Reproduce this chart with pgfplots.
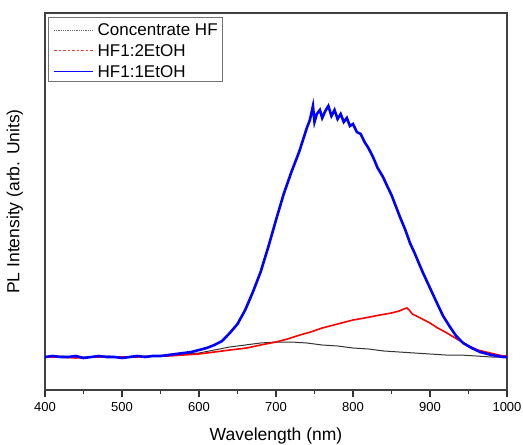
\documentclass[border=0pt]{standalone}
\usepackage{pgfplots}
\pgfplotsset{compat=1.18}
\usepackage{fontspec}
\setmainfont{Liberation Sans}
\definecolor{legblue}{RGB}{10,10,250}
\definecolor{legred}{RGB}{240,60,60}
\definecolor{leggray}{RGB}{110,110,110}
\begin{document}
\begin{tikzpicture}
\begin{axis}[
  scale only axis,
  width=462pt, height=377pt,
  xmin=400, xmax=1000, ymin=0, ymax=377,
  xtick={400,500,...,1000},
  minor x tick num=1,
  ytick=\empty,
  xtick pos=bottom,
  xtick align=outside,
  major tick length=7pt,
  minor tick length=4pt,
  every tick/.style={black!80, line width=1.2pt},
  axis line style={black!75, line width=1.5pt},
  /pgf/number format/assume math mode=true,
  /pgf/number format/1000 sep={},
  ticklabel style={font=\fontsize{13}{15}\selectfont},
  xticklabel style={yshift=-2pt},
  xlabel={Wavelength (nm)},
  ylabel={PL Intensity (arb. Units)},
  label style={font=\fontsize{17.5}{21}\selectfont},
  xlabel style={at={(axis description cs:0.5,-0.092)}, anchor=north},
  ylabel style={at={(axis description cs:-0.04,0.5)}, anchor=south},
]
% legend (drawn first; curves never reach this area)
\draw[draw=black!55, line width=0.6pt, fill=white] (rel axis cs:0.0065,0.9886) rectangle (rel axis cs:0.3831,0.8178);
\fill[fill=legblue] (rel axis cs:0.0195,0.8431) rectangle (rel axis cs:0.1045,0.8455);
\draw[draw=leggray, densely dotted, line width=0.8pt] (rel axis cs:0.0195,0.9549) -- (rel axis cs:0.1045,0.9549);
\draw[draw=legred, dash pattern=on 2.5pt off 2pt, line width=0.7pt] (rel axis cs:0.0195,0.9) -- (rel axis cs:0.1045,0.9);
\node[anchor=west, inner sep=0pt, text=black, font=\fontsize{17}{20}\selectfont] at (rel axis cs:0.1136,0.9549) {Concentrate HF};
\node[anchor=west, inner sep=0pt, text=black, font=\fontsize{17}{20}\selectfont] at (rel axis cs:0.1136,0.9) {HF1:2EtOH};
\node[anchor=west, inner sep=0pt, text=black, font=\fontsize{17}{20}\selectfont] at (rel axis cs:0.1136,0.8443) {HF1:1EtOH};
\addplot[black!80, line width=1pt, forget plot] coordinates {
(400,33) (420,34) (440,33) (460,33) (480,34) (500,33) (520,34) (540,34) (560,35) (580,36)
(600,37) (620,40) (640,43) (660,45) (680,47) (700,48) (720,48) (740,47) (760,45) (780,44)
(800,42) (820,41) (840,39) (860,38) (880,37) (900,36) (920,35) (940,35) (960,34) (980,33) (1000,33)
};
\addplot[red, line width=1.6pt, forget plot] coordinates {
(400,33) (420,33) (440,32) (460,33) (480,33) (500,33) (520,33) (540,34) (560,34) (580,35)
(600,36) (620,38) (640,40) (662,42) (680,45) (700,48) (715,51) (731,55) (745,58) (760,62)
(775,65) (790,68) (800,70) (815,72) (835,75) (850,77) (860,79) (866,81) (870,82) (873,80)
(877,76) (885,73) (900,67) (910,62) (922,57) (935,51) (948,45) (962,40) (978,37) (995,34) (1000,34)
};
\addplot[blue, line width=2.6pt, forget plot] coordinates {
(400,33) (410,34) (420,33) (430,33) (440,34) (450,32) (460,33) (470,34) (480,33) (490,33)
(500,32) (510,33) (520,34) (530,33) (540,34) (550,34) (560,35) (570,36) (580,37) (590,38)
(600,40) (610,42) (620,45) (630,49) (640,57) (650,66) (660,80) (670,98) (680,118) (690,143)
(700,170) (710,196) (720,218) (730,238) (735,250) (740,262) (744,270) (748,284) (750,268) (753,276)
(757,280) (760,272) (764,279) (768,284) (772,274) (776,280) (780,271) (784,276) (788,268) (792,272)
(796,264) (800,266) (805,258) (810,256) (815,248) (820,242) (826,233) (832,222) (839,213) (845,203)
(850,195) (855,185) (861,173) (868,160) (874,147) (880,137) (886,126) (891,117) (900,102) (909,87)
(917,74) (926,63) (934,54) (943,47) (954,42) (965,38) (980,35) (995,33) (1000,33)
};
\end{axis}
\pgfresetboundingbox
\path[use as bounding box] ([xshift=-45pt,yshift=-54pt]current axis.south west) rectangle ([xshift=16pt,yshift=13pt]current axis.north east);
\end{tikzpicture}
\end{document}
